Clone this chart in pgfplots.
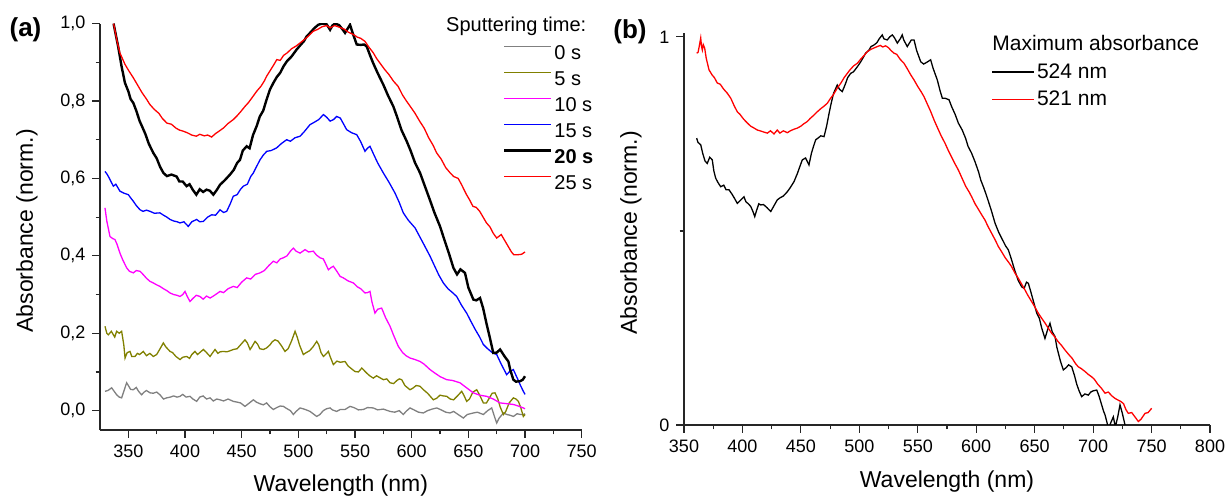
\documentclass[border=0pt]{standalone}
\usepackage{fontspec}
\setmainfont{Liberation Sans}
\usepackage{pgfplots}
\pgfplotsset{compat=1.18}

\definecolor{cgray}{RGB}{128,128,128}
\definecolor{colive}{RGB}{128,128,0}
\definecolor{cmag}{RGB}{255,0,255}
\definecolor{cblue}{RGB}{0,0,255}
\definecolor{cred}{RGB}{255,0,0}

\pgfplotsset{
  spec/.style={
    scale only axis,
    axis x line*=bottom, axis y line*=left,
    axis line style={-, line width=0.6pt, black!85},
    tick align=outside,
    major tick length=3.8pt, minor tick length=2.2pt,
    every tick/.style={black!85, line width=0.6pt},
    tick label style={font=\fontsize{9}{10}\selectfont},
    label style={font=\fontsize{11.5}{13}\selectfont},
    /pgf/number format/assume math mode=true,
    legend style={draw=none, fill=none, inner sep=0pt, outer sep=0pt,
      row sep=3pt, column sep=0pt,
      nodes={inner sep=1pt, text height=7.2pt, text depth=0.8pt, anchor=west}},
    legend cell align=left,
  },
  thin/.style={line width=0.65pt},
}

\begin{document}
\begin{tikzpicture}
\path[use as bounding box] (-50pt,-34pt) rectangle (563pt,215pt);

% ---------------- (a) ----------------
\begin{axis}[spec,
  at={(0pt,0pt)}, anchor=south west,
  width=240.85pt, height=203.2pt,
  xmin=325, xmax=750, ymin=-0.05, ymax=1.0,
  xtick={350,400,...,750}, minor x tick num=1,
  ytick={0,0.2,0.4,0.6,0.8,1.0}, minor y tick num=1,
  yticklabel style={/pgf/number format/.cd, fixed, fixed zerofill, precision=1, use comma},
  xlabel={Wavelength (nm)}, ylabel={Absorbance (norm.)},
  x label style={at={(axis description cs:0.5,-0.1355)}, anchor=center},
  y label style={at={(axis description cs:-0.1515,0.49)}, anchor=center},
  legend style={at={(rel axis cs:0.8366,0.9515)}, anchor=north west,
    font=\fontsize{10}{12}\selectfont},
  legend image code/.code={\draw[#1] (0pt,3.4pt) -- (23.5pt,3.4pt);},
]
\addplot[thin, cgray] coordinates {(329.4,0.050)(332,0.052)(335.3,0.059)(337,0.052)(339.7,0.041)(342,0.035)(344.1,0.033)(346,0.050)(348.5,0.072)(350,0.065)(352,0.055)(354.4,0.054)(357,0.060)(359,0.050)(361.7,0.041)(364,0.048)(366,0.052)(369.1,0.046)(372,0.045)(375,0.048)(377.9,0.041)(381,0.030)(383.8,0.033)(387,0.035)(390,0.038)(393,0.035)(395.6,0.037)(398,0.042)(401,0.035)(404.4,0.037)(407,0.030)(410.3,0.024)(413,0.035)(416,0.038)(419,0.030)(422.1,0.033)(425,0.025)(428,0.030)(430.9,0.028)(434,0.025)(438,0.030)(442.6,0.024)(446,0.022)(449,0.020)(452.9,0.011)(456,0.018)(460.3,0.028)(463,0.022)(466,0.018)(469.1,0.015)(472,0.020)(475,0.010)(477.9,0.003)(481,0.008)(484,0.012)(486.8,0.011)(490,0.005)(493,0.000)(495.6,-0.010)(498,-0.002)(501.5,0.007)(504,0.005)(507,0.002)(510.3,-0.002)(513,-0.008)(516.2,-0.015)(519,-0.010)(522,0.000)(525,0.005)(528,0.007)(530,0.002)(533.8,-0.002)(537,0.003)(541.2,0.003)(545.6,0.011)(549,0.008)(553,0.002)(557.4,0.003)(561,0.008)(566.1,0.007)(570,0.002)(575,0.004)(580.9,-0.002)(585,-0.004)(589,0.000)(592.6,-0.010)(595,-0.002)(598.5,0.007)(602,0.002)(606,-0.004)(610.3,-0.006)(614,0.000)(618,0.004)(622.1,0.007)(626,0.002)(630,-0.004)(633.8,-0.006)(637,-0.002)(641,-0.010)(645.6,-0.019)(649,-0.010)(654.4,-0.006)(658,-0.004)(663.2,-0.010)(667,0.000)(670.6,0.007)(673,-0.015)(675,-0.032)(677,-0.020)(680.9,-0.006)(684,-0.010)(687,-0.012)(689.7,-0.015)(693,-0.008)(696,-0.010)(698.5,-0.010)(700,-0.008)};
\addlegendentry{0 s}
\addplot[thin, colive] coordinates {(329.4,0.218)(331,0.200)(332.4,0.196)(335,0.205)(336.8,0.196)(338,0.190)(339.7,0.205)(342,0.200)(344.1,0.205)(346,0.170)(347.1,0.136)(349,0.150)(351.5,0.153)(353,0.140)(355.9,0.140)(358,0.148)(360,0.145)(363.2,0.153)(366,0.142)(369,0.148)(372,0.140)(375,0.145)(378,0.160)(380.9,0.175)(383,0.165)(386.8,0.153)(389,0.150)(392,0.140)(395.6,0.132)(398,0.138)(401.5,0.140)(404,0.135)(406,0.145)(408.8,0.153)(411,0.145)(413,0.150)(416.2,0.158)(419,0.150)(422.1,0.140)(424,0.148)(426.5,0.158)(429,0.148)(431,0.152)(433.8,0.153)(437,0.152)(440,0.155)(442.6,0.158)(446,0.160)(449,0.170)(452.9,0.183)(455,0.175)(457.4,0.158)(459,0.165)(461.8,0.179)(464,0.172)(466,0.160)(469.1,0.158)(472,0.162)(475,0.170)(477,0.178)(479.4,0.183)(482,0.180)(485,0.168)(488.2,0.153)(491,0.160)(494,0.180)(497.1,0.205)(499,0.190)(501,0.170)(504.4,0.145)(507,0.150)(510,0.155)(513,0.165)(516.2,0.179)(518,0.170)(520,0.150)(522.1,0.140)(524,0.145)(526.5,0.153)(528,0.140)(530.9,0.119)(534,0.128)(537,0.125)(541.2,0.127)(544,0.115)(547,0.108)(550,0.101)(553,0.100)(556,0.110)(560.3,0.097)(563,0.090)(566.1,0.084)(569,0.090)(572,0.085)(575,0.080)(578,0.082)(580.9,0.072)(584,0.070)(587,0.078)(589,0.082)(591.2,0.080)(594,0.065)(596,0.060)(598.5,0.054)(601,0.058)(604,0.065)(607.4,0.063)(610,0.055)(614,0.045)(617,0.035)(619.1,0.028)(622,0.032)(625,0.040)(628,0.038)(630.9,0.037)(634,0.030)(637,0.028)(641,0.040)(644.1,0.050)(646,0.040)(648.5,0.024)(651,0.030)(654,0.048)(657.4,0.054)(660,0.040)(663.2,0.020)(666,0.020)(668,0.030)(671,0.045)(673.5,0.046)(676,0.030)(678,0.010)(680.9,-0.010)(683,-0.002)(686,0.020)(689.7,0.033)(692,0.030)(694.1,0.024)(696,0.010)(698.5,-0.015)(700,-0.010)};
\addlegendentry{5 s}
\addplot[thin, cmag] coordinates {(329.4,0.524)(331,0.490)(333.8,0.450)(336,0.445)(338.2,0.442)(340,0.430)(342.6,0.407)(345,0.390)(348.5,0.369)(351,0.360)(354.4,0.356)(357,0.362)(360.3,0.360)(363,0.352)(366,0.342)(369.1,0.334)(372,0.330)(375,0.325)(377.9,0.321)(381,0.315)(384,0.310)(386.8,0.304)(390,0.300)(393,0.298)(395.6,0.295)(398,0.300)(400,0.308)(402,0.295)(404.4,0.282)(407,0.290)(410,0.298)(413.2,0.295)(416,0.288)(419,0.296)(422.1,0.291)(425,0.296)(428,0.302)(430.9,0.308)(434,0.305)(438,0.315)(442.6,0.321)(446,0.318)(450,0.332)(454.4,0.343)(458,0.340)(462,0.352)(466.2,0.356)(470,0.362)(474,0.375)(477.9,0.386)(481,0.382)(484,0.392)(486.8,0.395)(490,0.400)(493,0.412)(495.6,0.420)(498,0.412)(501.5,0.407)(505.9,0.416)(509,0.410)(513.2,0.412)(516,0.402)(519.1,0.395)(522,0.392)(524,0.380)(526.5,0.364)(529,0.370)(530.9,0.373)(534,0.360)(536.8,0.347)(539.7,0.343)(544,0.335)(548.5,0.330)(552,0.320)(555,0.315)(558.8,0.304)(561,0.305)(563.2,0.308)(565,0.280)(567.6,0.252)(570,0.262)(573.5,0.265)(577,0.240)(580.9,0.218)(584,0.195)(588.2,0.166)(592,0.150)(595,0.142)(598.5,0.136)(603,0.132)(607.4,0.127)(611,0.120)(616.2,0.106)(620,0.098)(625,0.088)(630.9,0.080)(636,0.078)(642.6,0.072)(648,0.060)(654.4,0.046)(660,0.040)(666.1,0.037)(672,0.030)(677.9,0.020)(684,0.018)(689.7,0.016)(694,0.012)(698.5,0.007)(700,0.005)};
\addlegendentry{10 s}
\addplot[thin, cblue] coordinates {(329.4,0.618)(331,0.612)(332.4,0.605)(335,0.590)(336.8,0.580)(339,0.585)(342.6,0.567)(346,0.562)(350,0.558)(352,0.550)(354.4,0.541)(357,0.530)(360.3,0.519)(363,0.515)(366,0.518)(369.1,0.515)(373,0.510)(377.9,0.511)(381,0.505)(384,0.500)(386.8,0.494)(390,0.490)(393,0.488)(395.6,0.485)(399,0.488)(402.9,0.476)(406,0.488)(410.3,0.494)(413,0.488)(416.2,0.489)(420,0.500)(423.5,0.506)(427,0.505)(430.9,0.519)(434,0.512)(436.8,0.515)(440,0.535)(442.6,0.554)(446,0.558)(449,0.572)(451.5,0.580)(455,0.585)(458,0.605)(460.3,0.614)(463,0.630)(466.2,0.648)(469,0.660)(472.1,0.670)(476,0.672)(480.9,0.679)(485,0.690)(489.7,0.700)(493,0.696)(497,0.705)(501.5,0.709)(505,0.720)(510.3,0.739)(514,0.745)(518,0.752)(522.1,0.765)(525,0.758)(528,0.748)(531,0.752)(533.8,0.760)(537,0.756)(540,0.740)(542.6,0.726)(547,0.718)(551.5,0.713)(555,0.695)(558.8,0.670)(561,0.678)(563.2,0.683)(566,0.665)(570,0.640)(575,0.614)(580,0.590)(585.3,0.562)(589,0.538)(592.6,0.511)(597,0.492)(603,0.472)(607,0.450)(611,0.428)(616.2,0.399)(620,0.375)(624,0.350)(627.9,0.330)(632,0.315)(636,0.305)(639.7,0.295)(644,0.272)(648.5,0.252)(652,0.232)(656,0.210)(660,0.190)(663.2,0.171)(667,0.160)(671,0.150)(675,0.145)(679,0.120)(683.8,0.093)(686,0.100)(689.7,0.106)(693,0.085)(696,0.065)(698.5,0.050)(700,0.042)};
\addlegendentry{15 s}
\addplot[line width=1.2pt, black] coordinates {(337,1.000)(339,0.970)(341,0.941)(344,0.890)(347,0.847)(350,0.825)(352,0.805)(354.4,0.795)(357,0.775)(360,0.748)(362,0.735)(365,0.715)(368,0.690)(372,0.666)(375,0.652)(378,0.630)(381,0.614)(384,0.606)(388,0.610)(392.6,0.605)(395,0.592)(398,0.592)(401.4,0.580)(404,0.585)(407,0.570)(410,0.558)(413,0.572)(416,0.565)(419,0.571)(422,0.568)(425,0.558)(428,0.570)(431,0.584)(435,0.595)(439.7,0.610)(443,0.622)(446,0.640)(448.5,0.648)(451,0.672)(454.4,0.683)(457,0.678)(460,0.712)(463.2,0.735)(466,0.760)(469,0.775)(472,0.804)(475,0.830)(478,0.847)(481,0.862)(484,0.873)(487,0.890)(490,0.903)(494,0.915)(498.5,0.933)(502,0.945)(505,0.955)(507.3,0.967)(511,0.978)(514,0.988)(517.6,0.997)(521,1.000)(525,0.998)(528,0.984)(530,0.995)(532.4,1.000)(536,0.996)(539,0.985)(541.2,0.976)(545.6,0.997)(548,0.975)(551.5,0.946)(555,0.945)(558,0.946)(560.3,0.941)(563,0.920)(566,0.898)(570,0.872)(575,0.842)(579,0.815)(583.8,0.786)(587,0.760)(591,0.725)(595.6,0.696)(599,0.672)(603,0.640)(607.4,0.614)(611,0.585)(616,0.545)(620,0.512)(625,0.476)(629,0.440)(633,0.405)(636.8,0.369)(640,0.352)(643,0.365)(647,0.356)(650,0.318)(654.4,0.287)(657,0.285)(660.3,0.291)(663,0.265)(666,0.225)(669,0.188)(672,0.149)(675,0.150)(678,0.158)(682,0.140)(685.3,0.127)(687,0.105)(689.7,0.080)(692,0.075)(695.6,0.076)(698,0.080)(700,0.089)};
\addlegendentry{\textbf{20 s}}
\addplot[thin, cred] coordinates {(337,1.000)(340,0.955)(342.6,0.924)(347,0.895)(350,0.880)(354.4,0.860)(358,0.842)(362,0.822)(366,0.805)(369,0.791)(373,0.778)(377,0.768)(380,0.755)(384,0.743)(388,0.740)(392,0.730)(395,0.725)(398.5,0.722)(402,0.718)(406,0.712)(410,0.709)(413,0.714)(417,0.710)(420,0.712)(423.5,0.707)(427,0.716)(430,0.722)(433.8,0.730)(438,0.742)(442.6,0.752)(446,0.762)(449,0.772)(452.9,0.786)(456,0.796)(460,0.812)(463.2,0.825)(467,0.838)(470,0.852)(472,0.864)(475,0.878)(478,0.892)(481,0.907)(484,0.905)(487,0.918)(490,0.924)(494,0.935)(498,0.942)(501.5,0.950)(505,0.958)(509,0.968)(513,0.980)(517,0.985)(521,0.992)(525,0.995)(528,0.989)(532,0.995)(536.8,0.990)(541,0.985)(544,0.978)(548.5,0.972)(552,0.965)(555,0.962)(558.8,0.954)(562,0.940)(566,0.925)(569,0.910)(572,0.898)(576,0.882)(580,0.868)(584,0.851)(588,0.838)(592,0.815)(595.6,0.799)(599,0.785)(603,0.768)(607,0.748)(611,0.730)(615,0.705)(619,0.685)(622,0.666)(626,0.650)(630,0.628)(634,0.614)(637,0.605)(641,0.600)(644,0.584)(648,0.560)(651,0.545)(654,0.528)(657,0.525)(660,0.515)(663,0.500)(666,0.485)(669,0.475)(672,0.458)(675,0.446)(679,0.455)(682,0.440)(685,0.425)(688,0.410)(690,0.403)(694,0.403)(697,0.404)(700,0.410)};
\addlegendentry{25 s}
\end{axis}

% ---------------- (b) ----------------
\begin{axis}[spec,
  at={(292pt,2.5pt)}, anchor=south west,
  width=263pt, height=196pt,
  xmin=350, xmax=800, ymin=0, ymax=1.01,
  xtick={350,400,...,800}, minor x tick num=1,
  ytick={0,1}, minor ytick={0.5},
  xlabel={Wavelength (nm)}, ylabel={Absorbance (norm.)},
  x label style={at={(axis description cs:0.5,-0.143)}, anchor=center},
  y label style={at={(axis description cs:-0.1008,0.49)}, anchor=center},
  legend style={at={(rel axis cs:0.5850,0.9255)}, anchor=north west,
    font=\fontsize{10.5}{12}\selectfont, row sep=3.6pt},
  legend image code/.code={\draw[#1] (0pt,0.1pt) -- (21pt,0.1pt);},
]
\addplot[thin, black] coordinates {(360.8,0.739)(362,0.728)(364.3,0.722)(366,0.700)(368,0.680)(369.9,0.674)(372,0.690)(374.2,0.683)(375.5,0.655)(377.1,0.636)(379,0.625)(381.4,0.614)(384,0.618)(386,0.606)(388.5,0.606)(391,0.595)(393,0.585)(395.6,0.571)(398,0.578)(401.3,0.588)(403,0.575)(405,0.570)(407.1,0.563)(409,0.550)(410.5,0.537)(412,0.552)(414,0.570)(415.6,0.567)(418,0.568)(421,0.560)(424.2,0.550)(427,0.565)(429.8,0.580)(432,0.585)(435,0.590)(438.4,0.601)(441,0.612)(444.1,0.627)(447,0.648)(449,0.665)(451.2,0.683)(454,0.688)(456.9,0.670)(459,0.700)(461,0.720)(462.7,0.735)(465,0.740)(467,0.745)(469.8,0.743)(472,0.770)(474.1,0.803)(476,0.830)(478,0.855)(481.1,0.876)(483,0.865)(485.4,0.859)(488,0.878)(490,0.895)(492.6,0.906)(495,0.910)(498.3,0.923)(501,0.935)(503,0.945)(505.4,0.958)(508,0.965)(510,0.975)(512.5,0.979)(515,0.985)(517,0.995)(519.6,1.005)(521,0.995)(523.9,0.992)(526,1.000)(528.2,1.005)(530,0.998)(532.5,0.984)(535,0.995)(536.7,1.005)(538,0.992)(541,0.975)(543,0.985)(544.5,0.992)(546.8,0.992)(549,0.965)(552.5,0.936)(555,0.930)(558,0.935)(561,0.941)(563,0.920)(566.7,0.889)(569,0.862)(571,0.842)(573.3,0.842)(576.7,0.838)(579,0.820)(582,0.800)(584.7,0.778)(588,0.760)(591,0.738)(593,0.718)(596.1,0.700)(599,0.678)(602,0.652)(604,0.630)(606.1,0.614)(608,0.598)(610,0.580)(613,0.552)(616.1,0.520)(619,0.498)(622,0.480)(625,0.462)(627.5,0.451)(630,0.428)(633,0.398)(636,0.372)(638.9,0.356)(641,0.352)(643,0.368)(644.6,0.365)(647,0.340)(649,0.318)(651.8,0.288)(654,0.275)(656,0.250)(658.8,0.223)(661,0.245)(663.1,0.262)(665,0.240)(667.4,0.228)(669,0.200)(672,0.165)(674.5,0.142)(677,0.148)(679,0.155)(681.7,0.150)(684,0.128)(686,0.105)(688,0.088)(690.2,0.073)(693,0.080)(695.9,0.077)(698,0.085)(700,0.088)(703.1,0.090)(705,0.075)(707,0.055)(709,0.035)(710.2,0.026)(712,0.005)(713.1,-0.010)(715,0.005)(717.3,0.021)(719,-0.005)(721,0.020)(723,0.052)(725,0.030)(727.3,0.000)(728,-0.010)};
\addlegendentry{524 nm}
\addplot[thin, cred] coordinates {(360.8,0.958)(362,0.960)(363,0.975)(364.3,0.997)(365,0.975)(365.7,0.966)(366.5,0.980)(367.7,0.971)(369,0.945)(371.4,0.915)(374,0.902)(376,0.895)(378.5,0.881)(381,0.878)(384,0.865)(387,0.855)(390,0.842)(393,0.822)(395.6,0.807)(398,0.800)(401,0.788)(404.2,0.778)(407,0.770)(410,0.765)(412.7,0.760)(415,0.758)(418,0.755)(421.3,0.752)(424,0.758)(427,0.750)(429.8,0.760)(432,0.752)(435,0.758)(438.4,0.753)(441,0.758)(444,0.762)(447,0.765)(450,0.770)(452,0.775)(455.5,0.782)(458,0.790)(461,0.798)(464,0.807)(467,0.815)(470,0.822)(472.6,0.829)(475,0.840)(478,0.852)(481.1,0.868)(484,0.880)(487,0.895)(489.7,0.906)(492,0.915)(495,0.925)(498.3,0.932)(501,0.942)(504,0.952)(506.8,0.962)(510,0.968)(513,0.972)(515.4,0.975)(518,0.978)(520,0.974)(522.5,0.977)(525,0.972)(527,0.965)(529.7,0.958)(532,0.955)(535,0.942)(538.2,0.932)(541,0.918)(544,0.902)(546.8,0.889)(550,0.872)(553,0.858)(555.3,0.846)(558,0.828)(561,0.808)(563.9,0.786)(567,0.765)(570,0.745)(573.3,0.726)(576,0.708)(579,0.690)(582,0.672)(584.7,0.657)(588,0.635)(591,0.615)(594,0.600)(596.1,0.588)(599,0.570)(602,0.555)(605,0.540)(607.5,0.528)(610,0.512)(613,0.495)(616,0.478)(618.9,0.460)(622,0.445)(625,0.430)(628,0.418)(630.3,0.408)(633,0.392)(636,0.378)(639,0.362)(641.7,0.348)(644,0.335)(647,0.320)(650,0.305)(653.1,0.288)(656,0.275)(659,0.262)(662,0.248)(664.6,0.236)(667,0.228)(670,0.215)(673,0.205)(676,0.193)(679,0.182)(682,0.172)(685,0.158)(687.3,0.150)(690,0.145)(693,0.138)(696,0.130)(698.8,0.124)(701,0.118)(704,0.105)(707,0.095)(710.2,0.082)(713,0.085)(716,0.075)(719,0.068)(721.5,0.064)(724,0.060)(726,0.055)(728,0.040)(730.1,0.030)(733,0.032)(736,0.020)(738.7,0.009)(741,0.015)(744.4,0.030)(747,0.032)(750.1,0.043)};
\addlegendentry{521 nm}
\end{axis}

% panel letters and legend titles
\node[font=\bfseries\fontsize{13}{15}\selectfont] at (-37.25pt,200pt) {(a)};
\node[font=\bfseries\fontsize{13}{15}\selectfont] at (265pt,199pt) {(b)};
\node[anchor=east, inner sep=0pt, font=\fontsize{10}{12}\selectfont] at (243.35pt,202pt) {Sputtering time:};
\node[anchor=west, inner sep=0pt, font=\fontsize{10.5}{12}\selectfont] at (446pt,193.75pt) {Maximum absorbance};
\end{tikzpicture}
\end{document}
